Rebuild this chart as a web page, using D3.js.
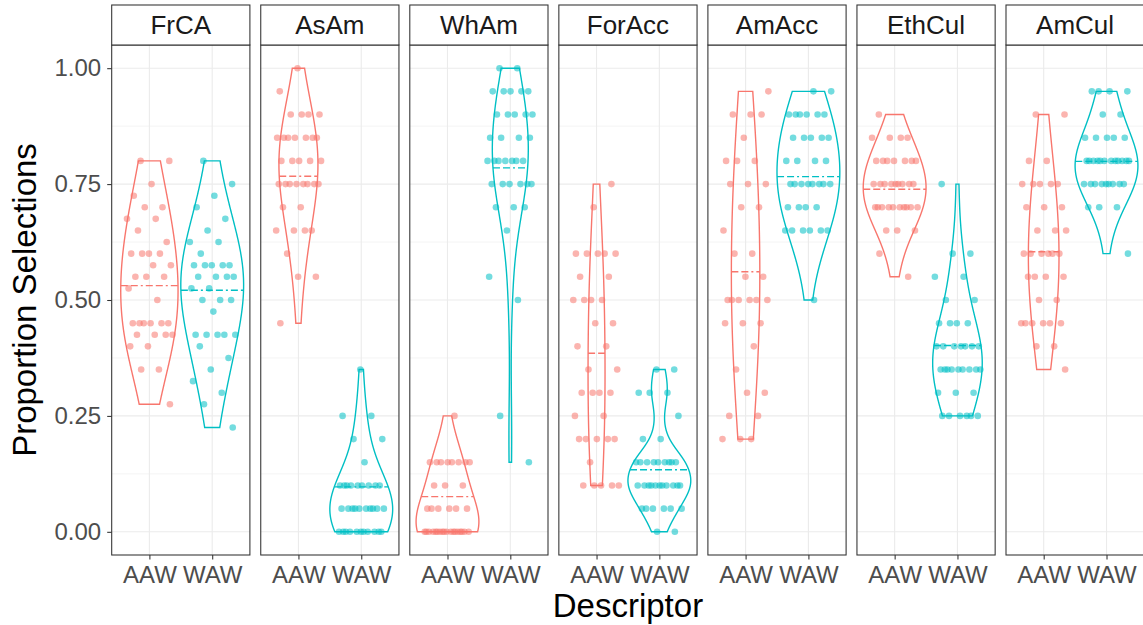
<!DOCTYPE html>
<html>
<head>
<meta charset="utf-8">
<title>Proportion Selections by Descriptor</title>
<script src="https://d3js.org/d3.v7.min.js"></script>
<style>
  body { margin: 0; background: #fff; }
  text { font-family: "Liberation Sans", Arial, Helvetica, sans-serif; }
</style>
</head>
<body>
<div id="chart"></div>
<script>
var descriptors = ["FrCA", "AsAm", "WhAm", "ForAcc", "AmAcc", "EthCul", "AmCul"];
var groups = ["AAW", "WAW"];
var yTicks = [0, 0.25, 0.5, 0.75, 1];
var yMinor = [0.125, 0.375, 0.625, 0.875];

// [proportion, number of participants with it]
var frcaAAW = [[0.8,2],[0.75,1],[0.725,1],[0.7,2],[0.675,2],[0.65,1],[0.625,1],[0.6,4],[0.575,2],[0.55,3],[0.525,1],[0.5,1],[0.45,6],[0.425,4],[0.4,2],[0.35,2],[0.275,1]];
var frcaWAW = [[0.8,1],[0.75,1],[0.725,1],[0.7,1],[0.675,1],[0.65,1],[0.625,2],[0.6,1],[0.575,5],[0.55,4],[0.525,2],[0.5,3],[0.475,1],[0.425,5],[0.4,1],[0.375,1],[0.35,1],[0.325,1],[0.3,1],[0.275,1],[0.225,1]];
var asamAAW = [[1,1],[0.95,1],[0.9,4],[0.85,7],[0.8,5],[0.75,8],[0.7,2],[0.65,4],[0.6,1],[0.55,2],[0.45,1]];
var asamWAW = [[0.35,1],[0.25,2],[0.2,2],[0.15,1],[0.1,9],[0.05,10],[0,11]];
var whamAAW = [[0.25,1],[0.15,8],[0.1,3],[0.05,6],[0,18]];
var whamWAW = [[1,2],[0.95,5],[0.9,5],[0.85,4],[0.8,7],[0.75,6],[0.7,3],[0.65,1],[0.55,1],[0.5,1],[0.25,1],[0.15,1]];
var foraccAAW = [[0.75,1],[0.7,1],[0.6,5],[0.55,2],[0.5,4],[0.45,2],[0.4,2],[0.35,2],[0.3,4],[0.25,2],[0.2,5],[0.15,1],[0.1,5]];
var foraccWAW = [[0.35,2],[0.3,3],[0.25,1],[0.2,2],[0.15,9],[0.1,11],[0.05,6],[0,2]];
var amaccAAW = [[0.95,1],[0.9,3],[0.85,1],[0.8,3],[0.75,3],[0.7,2],[0.65,1],[0.6,2],[0.55,2],[0.5,6],[0.45,3],[0.4,1],[0.35,1],[0.3,2],[0.25,2],[0.2,3]];
var amaccWAW = [[0.95,2],[0.9,6],[0.85,5],[0.8,4],[0.75,8],[0.7,4],[0.65,6],[0.5,1]];
var ethculAAW = [[0.9,1],[0.85,4],[0.8,7],[0.75,9],[0.7,10],[0.65,3],[0.6,1],[0.55,1]];
var ethculWAW = [[0.75,1],[0.6,2],[0.55,2],[0.5,2],[0.45,4],[0.4,7],[0.35,9],[0.3,3],[0.25,6]];
var amculAAW = [[0.9,2],[0.8,2],[0.75,5],[0.7,3],[0.65,3],[0.6,6],[0.55,4],[0.5,2],[0.45,6],[0.4,2],[0.35,1]];
var amculWAW = [[0.95,4],[0.9,2],[0.85,5],[0.8,12],[0.75,9],[0.7,3],[0.6,1]];

// dashed summary line of each violin
var lineAAW = [0.531, 0.767, 0.076, 0.385, 0.561, 0.739, 0.604];
var lineWAW = [0.521, 0.097, 0.785, 0.134, 0.766, 0.402, 0.799];

var counts = {
  AAW: [frcaAAW, asamAAW, whamAAW, foraccAAW, amaccAAW, ethculAAW, amculAAW],
  WAW: [frcaWAW, asamWAW, whamWAW, foraccWAW, amaccWAW, ethculWAW, amculWAW]
};
var lines = { AAW: lineAAW, WAW: lineWAW };
var colors = { AAW: "#F8766D", WAW: "#00BFC4" };

var width = 1143, height = 625;
var left0 = 111.7, panelW = 138.2, panelStep = 149.05;
var panelTop = 45, panelBottom = 555, stripTop = 5;
var bwAdjust = 2;

var svg = d3.select("#chart").append("svg")
  .attr("width", width)
  .attr("height", height);

var y = d3.scaleLinear().domain([-0.05, 1.05]).range([panelBottom, panelTop]);

function expand(pairs) {
  var out = [];
  pairs.forEach(function (p) { for (var i = 0; i < p[1]; i++) out.push(p[0]); });
  return out;
}

function q7(s, p) {
  var h = (s.length - 1) * p, lo = Math.floor(h);
  var hi = Math.min(lo + 1, s.length - 1);
  return s[lo] + (h - lo) * (s[hi] - s[lo]);
}

// same bandwidth rule as R's bw.nrd0
function bwNrd0(x) {
  var s = x.slice().sort(d3.ascending);
  var sd = d3.deviation(x);
  var lo = Math.min(sd, (q7(s, 0.75) - q7(s, 0.25)) / 1.34);
  if (!lo) lo = sd || Math.abs(x[0]) || 1;
  return 0.9 * lo * Math.pow(x.length, -0.2);
}

function density(x) {
  var bw = bwNrd0(x) * bwAdjust, mn = d3.min(x), mx = d3.max(x), n = 512, out = [];
  for (var i = 0; i < n; i++) {
    var v = mn + (mx - mn) * i / (n - 1), s = 0;
    x.forEach(function (d) { var z = (v - d) / bw; s += Math.exp(-0.5 * z * z); });
    out.push({ y: v, d: s / (x.length * bw * Math.sqrt(2 * Math.PI)) });
  }
  return out;
}

function densAt(dens, v) {
  for (var i = 1; i < dens.length; i++) {
    if (dens[i].y >= v) {
      var a = dens[i - 1], b = dens[i];
      var t = (v - a.y) / ((b.y - a.y) || 1);
      return a.d + t * (b.d - a.d);
    }
  }
  return dens[dens.length - 1].d;
}

descriptors.forEach(function (name, k) {
  var left = left0 + k * panelStep;
  var x = d3.scalePoint().domain(groups).range([left, left + panelW]).padding(0.6);
  var unit = x.step();
  var g = svg.append("g");

  // grid
  g.selectAll(".minor").data(yMinor).enter().append("line")
    .attr("x1", left).attr("x2", left + panelW)
    .attr("y1", function (d) { return y(d); }).attr("y2", function (d) { return y(d); })
    .attr("stroke", "#EBEBEB").attr("stroke-width", 0.55);
  g.selectAll(".major").data(yTicks).enter().append("line")
    .attr("x1", left).attr("x2", left + panelW)
    .attr("y1", function (d) { return y(d); }).attr("y2", function (d) { return y(d); })
    .attr("stroke", "#EBEBEB").attr("stroke-width", 1.1);
  g.selectAll(".vgrid").data(groups).enter().append("line")
    .attr("x1", function (d) { return x(d); }).attr("x2", function (d) { return x(d); })
    .attr("y1", panelTop).attr("y2", panelBottom)
    .attr("stroke", "#EBEBEB").attr("stroke-width", 1.1);

  var obs = {}, dens = {};
  groups.forEach(function (grp) {
    obs[grp] = expand(counts[grp][k]);
    dens[grp] = density(obs[grp]);
  });
  var maxD = d3.max(groups, function (grp) { return d3.max(dens[grp], function (d) { return d.d; }); });

  groups.forEach(function (grp) {
    var cx = x(grp);
    var area = d3.area()
      .y(function (d) { return y(d.y); })
      .x0(function (d) { return cx - d.d / maxD * unit / 2; })
      .x1(function (d) { return cx + d.d / maxD * unit / 2; });
    g.append("path")
      .datum(dens[grp])
      .attr("d", area)
      .attr("fill", "none")
      .attr("stroke", colors[grp])
      .attr("stroke-width", 1.4);

    var m = lines[grp][k];
    var half = densAt(dens[grp], m) / maxD * unit / 2;
    g.append("line")
      .attr("x1", cx - half).attr("x2", cx + half)
      .attr("y1", y(m)).attr("y2", y(m))
      .attr("stroke", colors[grp])
      .attr("stroke-width", 1.4)
      .attr("stroke-dasharray", "7,3,7,3,2,3");
  });

  groups.forEach(function (grp) {
    var cx = x(grp);
    g.selectAll(".pt-" + grp).data(obs[grp]).enter().append("circle")
      .attr("cx", function (d, i) { return cx + (((i * 0.6180339887 + 0.31 + k * 0.17) % 1) - 0.5) * 0.74 * unit; })
      .attr("cy", function (d) { return y(d); })
      .attr("r", 3.3)
      .attr("fill", colors[grp])
      .attr("fill-opacity", 0.55);
  });

  // panel border
  g.append("rect")
    .attr("x", left).attr("y", panelTop)
    .attr("width", panelW).attr("height", panelBottom - panelTop)
    .attr("fill", "none").attr("stroke", "#333333").attr("stroke-width", 1.07);

  // strip
  g.append("rect")
    .attr("x", left).attr("y", stripTop)
    .attr("width", panelW).attr("height", panelTop - stripTop)
    .attr("fill", "#fff").attr("stroke", "#333333").attr("stroke-width", 1.07);
  g.append("text")
    .attr("x", left + panelW / 2).attr("y", (stripTop + panelTop) / 2)
    .attr("dy", "0.35em")
    .attr("text-anchor", "middle")
    .attr("font-size", 26)
    .attr("fill", "#1A1A1A")
    .text(name);

  // x axis
  var xa = g.append("g")
    .attr("transform", "translate(0," + panelBottom + ")")
    .call(d3.axisBottom(x).tickSize(4.5).tickPadding(6));
  xa.select(".domain").remove();
  xa.selectAll("line").attr("stroke", "#333333").attr("stroke-width", 1.07);
  xa.selectAll("text").attr("font-size", 24).attr("fill", "#4D4D4D")
    .attr("font-family", "Liberation Sans, Arial, sans-serif");
});

// y axis
var ya = svg.append("g")
  .attr("transform", "translate(" + left0 + ",0)")
  .call(d3.axisLeft(y).tickValues(yTicks).tickFormat(d3.format(".2f")).tickSize(4.5).tickPadding(6));
ya.select(".domain").remove();
ya.selectAll("line").attr("stroke", "#333333").attr("stroke-width", 1.07);
ya.selectAll("text").attr("font-size", 24).attr("fill", "#4D4D4D")
  .attr("font-family", "Liberation Sans, Arial, sans-serif");

// titles
svg.append("text")
  .attr("x", (left0 + left0 + 6 * panelStep + panelW) / 2)
  .attr("y", 617)
  .attr("text-anchor", "middle")
  .attr("font-size", 33)
  .text("Descriptor");

svg.append("text")
  .attr("transform", "translate(36," + (panelTop + panelBottom) / 2 + ") rotate(-90)")
  .attr("text-anchor", "middle")
  .attr("font-size", 33)
  .text("Proportion Selections");
</script>
</body>
</html>
